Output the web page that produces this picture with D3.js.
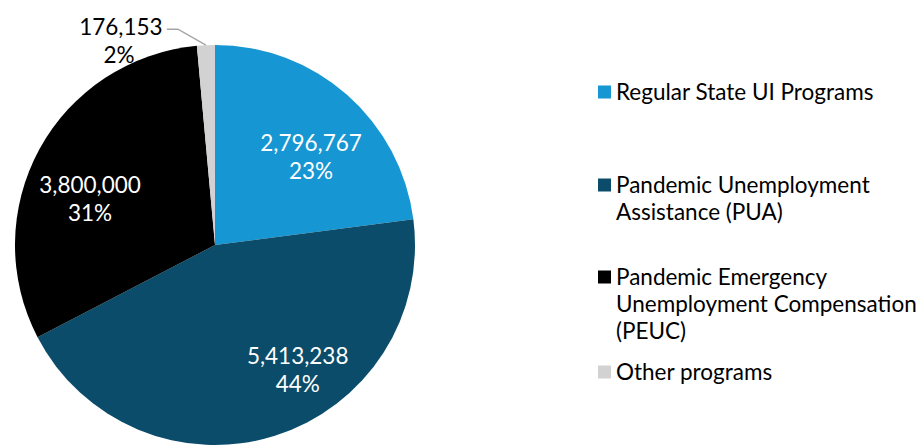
<!DOCTYPE html>
<html><head><meta charset="utf-8">
<script src="https://cdn.jsdelivr.net/npm/d3@7"></script>
<style>body{margin:0;background:#fff;} svg{display:block;font-family:Lato,"Open Sans",sans-serif;}</style>
</head><body>
<svg id="c" width="920" height="447"></svg>
<script>
const categories = ["Regular State UI Programs","Pandemic Unemployment Assistance (PUA)","Pandemic Emergency Unemployment Compensation (PEUC)","Other programs"];
const values = [2796767, 5413238, 3800000, 176153];
const percentLabels = ["23%","44%","31%","2%"];
const legendLines = [["Regular State UI Programs"],["Pandemic Unemployment","Assistance (PUA)"],["Pandemic Emergency","Unemployment Compensation","(PEUC)"],["Other programs"]];
const colors = ["#1696d2","#0a4c6a","#000000","#d2d2d2"];

const svg = d3.select("#c");
const cx = 215, cy = 245, R = 200, FS = 22.5;
const g = svg.append("g").attr("transform",`translate(${cx},${cy})`);
const pie = d3.pie().sort(null).value(d=>d)(values);
const arc = d3.arc().innerRadius(0).outerRadius(R);
g.selectAll("path").data(pie).enter().append("path")
  .attr("d",arc).attr("fill",(d,i)=>colors[i]);

const fmt = d3.format(",");
// label placement: radius and angular shift per slice (style)
const labelPos = [{r:130,da:0.11},{r:150,da:-0.28},{r:133,da:-0.15}];
pie.forEach((d,i)=>{
  if(i<3){
    const a = (d.startAngle+d.endAngle)/2 + labelPos[i].da;
    const x = Math.sin(a)*labelPos[i].r, y = -Math.cos(a)*labelPos[i].r;
    const t = g.append("text").attr("text-anchor","middle").attr("fill","#fff").attr("font-size",FS);
    t.append("tspan").attr("x",x).attr("y",y-14+8).text(fmt(values[i]));
    t.append("tspan").attr("x",x).attr("y",y+14+8).text(percentLabels[i]);
  }
});
// outside label for small slice
{
  const d = pie[3];
  const a = (d.startAngle+d.endAngle)/2;
  const px = Math.sin(a)*R, py = -Math.cos(a)*R;
  const lx = px-39, ly = py-16;
  g.append("path").attr("d",`M${lx},${ly}H${lx+11}L${px},${py}`)
    .attr("fill","none").attr("stroke","#a6a6a6").attr("stroke-width",1.5);
  const t = g.append("text").attr("text-anchor","middle").attr("fill","#000").attr("font-size",FS);
  t.append("tspan").attr("x",lx-46).attr("y",ly+8-2).text(fmt(values[3]));
  t.append("tspan").attr("x",lx-48).attr("y",ly+8+26).text(percentLabels[3]);
}

// legend
const lg = svg.append("g");
const legTop = [92,185,277,372];
legendLines.forEach((lines,i)=>{
  lg.append("rect").attr("x",598).attr("y",legTop[i]-6.5).attr("width",13).attr("height",13).attr("fill",colors[i]);
  const t = lg.append("text").attr("font-size",FS).attr("fill","#000");
  lines.forEach((l,j)=>t.append("tspan").attr("x",616).attr("y",legTop[i]+8+j*27).text(l));
});
</script>
</body></html>
